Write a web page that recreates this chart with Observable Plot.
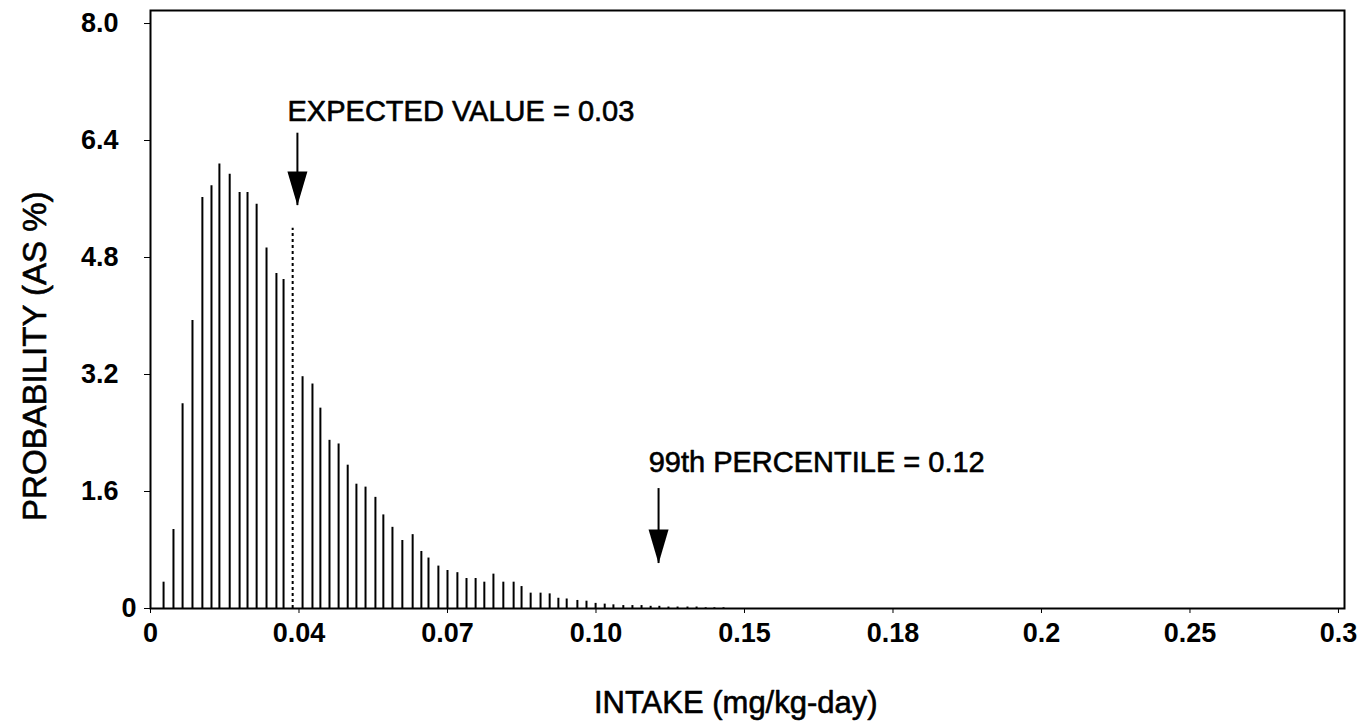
<!DOCTYPE html>
<html><head><meta charset="utf-8">
<script src="https://cdn.jsdelivr.net/npm/d3@7"></script>
<script src="https://cdn.jsdelivr.net/npm/@observablehq/plot@0.6"></script>
<style>html,body{margin:0;padding:0;background:#fff;}</style>
</head><body><div id="chart"></div>
<script>
// x tick positions (evenly spaced on the printed axis) and their printed labels
const xTickValues = [0, 0.0375, 0.075, 0.1125, 0.15, 0.1875, 0.225, 0.2625, 0.3];
const xTickLabels = ["0", "0.04", "0.07", "0.10", "0.15", "0.18", "0.2", "0.25", "0.3"];
const yTickValues = [0, 1.6, 3.2, 4.8, 6.4, 8.0];
const yTickLabels = ["0", "1.6", "3.2", "4.8", "6.4", "8.0"];

// histogram bins (position on the axis) and probability (%)
const intake = [0.0033,0.0058,0.0081,0.0106,0.0131,0.0154,0.0174,0.0200,0.0225,0.0245,
  0.0268,0.0293,0.0318,0.0336,0.0359,0.0384,0.0409,0.0429,0.0452,0.0475,
  0.0498,0.0520,0.0543,0.0568,0.0588,0.0611,0.0636,0.0662,0.0684,0.0702,
  0.0727,0.0750,0.0775,0.0798,0.0821,0.0843,0.0866,0.0891,0.0917,0.0937,
  0.0960,0.0985,0.1008,0.1030,0.1051,0.1078,0.1101,0.1124,0.1147,0.1169,
  0.1194,0.1217,0.1240,0.1263,0.1285,0.1308,0.1331,0.1356,0.1379,0.1402,
  0.1424,0.1447];
const probability = [0.36,1.08,2.80,3.94,5.62,5.78,6.08,5.94,5.69,5.69,
  5.53,4.93,4.58,4.50,null,3.17,3.07,2.74,2.30,2.25,
  1.96,1.70,1.66,1.52,1.28,1.11,0.93,1.01,0.78,0.69,
  0.58,0.52,0.49,0.41,0.41,0.36,0.47,0.36,0.36,0.30,
  0.21,0.21,0.20,0.14,0.13,0.11,0.10,0.07,0.06,0.05,
  0.04,0.04,0.04,0.03,0.03,0.02,0.02,0.02,0.02,0.01,
  0.01,0.01];

// annotations
const expectedLine = {x: 0.0359, y: 5.2};
const annotations = [
  {label: "EXPECTED VALUE = 0.03", tx: 0.0346, ty: 6.67, ax: 0.0371, top: 6.50, tip: 5.51},
  {label: "99th PERCENTILE = 0.12", tx: 0.1258, ty: 1.86, ax: 0.1283, top: 1.64, tip: 0.615}
];
const xTitle = {label: "INTAKE (mg/kg-day)", x: 0.1478};
const yTitle = {label: "PROBABILITY (AS %)", y: 3.45};

const bars = intake.map((x, i) => ({x, p: probability[i]})).filter(d => d.p != null);

const arrowHead = {
  draw(context, size) {
    context.moveTo(0, 0);
    context.lineTo(-10, -34);
    context.lineTo(10, -34);
    context.closePath();
  }
};

const font = "'Liberation Sans', Arial, Helvetica, sans-serif";
const yFmt = d => yTickLabels[yTickValues.indexOf(d)];
const heavy = {fill: "black", stroke: "black", strokeWidth: 0.6};

const chart = Plot.plot({
  width: 1363,
  height: 724,
  marginLeft: 150,
  marginRight: 19,
  marginTop: 10,
  marginBottom: 116,
  style: {fontFamily: font, color: "black", background: "white", overflow: "visible"},
  x: {domain: [0, 0.30152]},
  y: {domain: [0, 8.178]},
  marks: [
    Plot.ruleX(bars, {x: "x", y1: 0, y2: "p", stroke: "black", strokeWidth: 2}),
    Plot.ruleX([expectedLine], {x: "x", y1: 0, y2: "y", stroke: "black", strokeWidth: 2, strokeDasharray: "3,3"}),
    Plot.ruleX(annotations, {x: "ax", y1: "top", y2: "tip", stroke: "black", strokeWidth: 2}),
    Plot.dot(annotations, {x: "ax", y: "tip", symbol: arrowHead, fill: "black", stroke: "none", r: 5}),
    Plot.text(annotations, {x: "tx", y: "ty", text: "label", textAnchor: "start", lineAnchor: "bottom", fontSize: 29, ...heavy}),
    Plot.frame({stroke: "black", strokeWidth: 2}),
    Plot.axisX({ticks: xTickValues, tickFormat: d => xTickLabels[xTickValues.indexOf(d)], tickSize: 5, tickPadding: 9, fontSize: 27, fontWeight: "bold", label: null}),
    Plot.axisY({ticks: yTickValues.slice(1), tickFormat: yFmt, tickSize: 6, tickPadding: 26, fontSize: 27, fontWeight: "bold", label: null}),
    Plot.axisY({ticks: yTickValues.slice(0, 1), tickFormat: yFmt, tickSize: 6, tickPadding: 8, fontSize: 27, fontWeight: "bold", label: null}),
    Plot.text([xTitle], {x: "x", text: "label", frameAnchor: "bottom", dy: 104, lineAnchor: "bottom", fontSize: 31, ...heavy}),
    Plot.text([yTitle], {y: "y", text: "label", frameAnchor: "left", textAnchor: "middle", lineAnchor: "middle", dx: -115, rotate: -90, fontSize: 33, ...heavy})
  ]
});
document.getElementById("chart").appendChild(chart);
</script>
</body></html>
